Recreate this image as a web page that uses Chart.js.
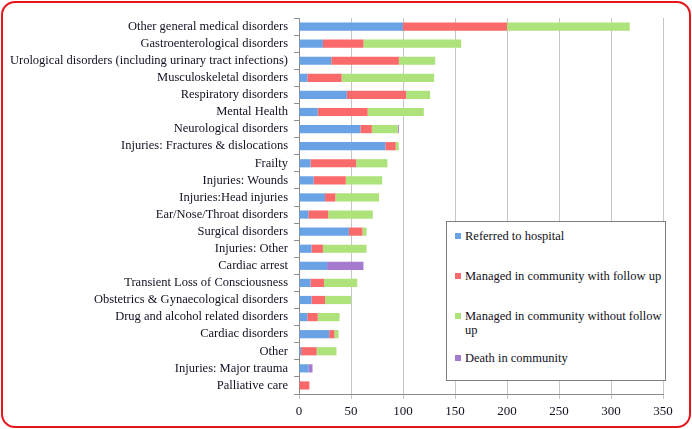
<!DOCTYPE html>
<html>
<head>
<meta charset="utf-8">
<script src="https://cdn.jsdelivr.net/npm/chart.js@4.4.1/dist/chart.umd.min.js"></script>
<style>
    html, body { margin: 0; padding: 0; background: #fff; }
    #wrap { position: relative; width: 692px; height: 429px; overflow: hidden; }
    #frame {
        position: absolute; left: 1px; top: 1px; right: 1px; bottom: 1px;
        border: 2.5px solid #e8141b; border-radius: 14px; pointer-events: none;
    }
    #legend {
        position: absolute; left: 446px; top: 221px; width: 220px; height: 160px;
        border: 1px solid #7f7f7f; background: #fff; box-sizing: border-box;
        font-family: "Liberation Serif", serif; font-size: 12.5px; color: #111122;
    }
    .item { position: absolute; left: 8px; width: 210px; line-height: 14px; }
    .item .box { position: absolute; left: 0; top: 4px; width: 6px; height: 6px; }
    .item .txt { display: block; margin-left: 10px; width: 197px; }
</style>
</head>
<body>
<div id="wrap">
    <canvas id="grafico" width="692" height="429"></canvas>
    <div id="legend"></div>
    <div id="frame"></div>
</div>
<script>
// categorias (de arriba hacia abajo)
var categories = [
    "Other general medical disorders",
    "Gastroenterological disorders",
    "Urological disorders (including urinary tract infections)",
    "Musculoskeletal disorders",
    "Respiratory disorders",
    "Mental Health",
    "Neurological disorders",
    "Injuries: Fractures & dislocations",
    "Frailty",
    "Injuries: Wounds",
    "Injuries:Head injuries",
    "Ear/Nose/Throat disorders",
    "Surgical disorders",
    "Injuries: Other",
    "Cardiac arrest",
    "Transient Loss of Consciousness",
    "Obstetrics & Gynaecological disorders",
    "Drug and alcohol related disorders",
    "Cardiac disorders",
    "Other",
    "Injuries: Major trauma",
    "Palliative care"
];

var seriesNames = [
    "Referred to hospital",
    "Managed in community with follow up",
    "Managed in community without follow up",
    "Death in community"
];

var referred        = [100, 23, 31,  8, 46, 18, 59, 83, 11, 14, 25,  9, 48, 12, 27, 11, 12,  8, 29,  2, 9,  0];
var withFollowUp    = [100, 39, 65, 33, 57, 48, 11, 10, 44, 31, 10, 19, 13, 11,  0, 13, 13, 10,  5, 15, 0, 10];
var withoutFollowUp = [118, 94, 35, 89, 23, 54, 25,  3, 30, 35, 42, 43,  4, 42,  0, 32, 25, 21,  4, 19, 0,  0];
var deaths          = [  0,  0,  0,  0,  0,  0,  1,  0,  0,  0,  0,  0,  0,  0, 35,  0,  0,  0,  0,  0, 4,  0];

var seriesColors = ["#6aa2e6", "#fb6a6a", "#aee27a", "#a57bcf"];

var fontSerif = "'Liberation Serif', serif";

var ctx = document.getElementById("grafico").getContext("2d");
var chart = new Chart(ctx, {
    type: "bar",
    data: {
        labels: categories,
        datasets: [referred, withFollowUp, withoutFollowUp, deaths].map(function (vals, i) {
            return {
                label: seriesNames[i],
                data: vals,
                backgroundColor: seriesColors[i],
                borderWidth: 0,
                categoryPercentage: 1,
                barPercentage: 0.48
            };
        })
    },
    options: {
        indexAxis: "y",
        responsive: false,
        animation: false,
        layout: { padding: { top: 18, right: 29, left: 10, bottom: 0 } },
        plugins: {
            legend: { display: false },
            tooltip: { enabled: false }
        },
        scales: {
            x: {
                stacked: true,
                min: 0,
                max: 350,
                ticks: {
                    stepSize: 50,
                    padding: 5,
                    color: "#111122",
                    font: { family: fontSerif, size: 13 }
                },
                grid: { color: "#c6c6c6", lineWidth: 1, tickLength: 5 },
                border: { color: "#8c8c8c" },
                afterFit: function (scale) { scale.height = 35; }
            },
            y: {
                stacked: true,
                ticks: {
                    padding: 6,
                    autoSkip: false,
                    color: "#111122",
                    font: { family: fontSerif, size: 12.5 }
                },
                grid: { drawOnChartArea: false, offset: true, tickLength: 5, color: "#8c8c8c" },
                border: { color: "#8c8c8c" },
                afterFit: function (scale) { scale.width = 289; }
            }
        }
    }
});

// leyenda en HTML (el texto largo se parte en dos lineas como en el original)
var legendTops = [7, 47, 87, 129];
var legend = document.getElementById("legend");
chart.data.datasets.forEach(function (ds, i) {
    var item = document.createElement("div");
    item.className = "item";
    item.style.top = legendTops[i] + "px";
    item.innerHTML = '<span class="box" style="background:' + ds.backgroundColor + '"></span>' +
        '<span class="txt">' + ds.label + '</span>';
    legend.appendChild(item);
});
</script>
</body>
</html>
